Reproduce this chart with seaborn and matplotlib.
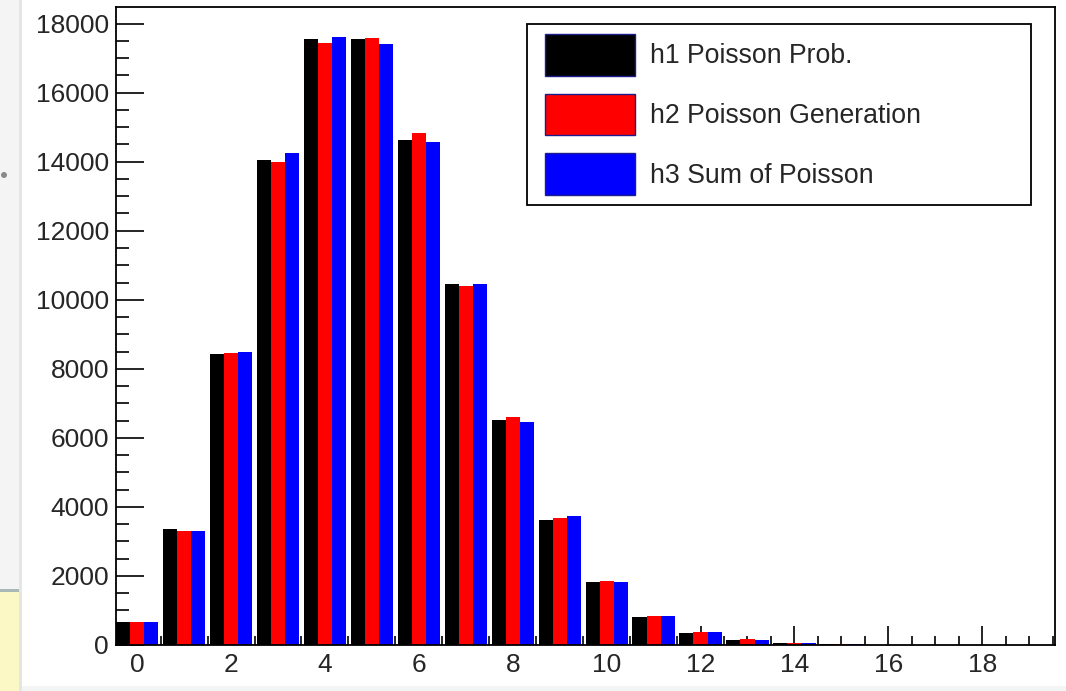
import numpy as np
import pandas as pd
import matplotlib
matplotlib.use("Agg")
import matplotlib.pyplot as plt
from matplotlib.patches import Patch, Rectangle, Circle
from matplotlib.legend_handler import HandlerPatch
from matplotlib.ticker import MultipleLocator
import seaborn as sns

# Counts per bin for the three histograms
bins = list(range(20))
h1_poisson_prob = [674, 3369, 8431, 14040, 17547, 17547, 14622, 10444, 6528, 3627,
                   1813, 824, 343, 132, 47, 16, 5, 2, 0.4, 0.1]
h2_poisson_gen = [670, 3296, 8460, 13990, 17448, 17592, 14818, 10385, 6590, 3670,
                  1841, 838, 387, 165, 55, 20, 7, 3, 1, 0]
h3_sum_poisson = [665, 3300, 8488, 14240, 17610, 17399, 14558, 10454, 6445, 3728,
                  1812, 850, 367, 145, 52, 18, 6, 2, 1, 0]
series_names = ["h1 Poisson Prob.", "h2 Poisson Generation", "h3 Sum of Poisson"]
series_colors = ["#000000", "#ff0000", "#0000ff"]
x_tick_labels = [str(v) for v in range(0, 20, 2)]

df = pd.DataFrame({
    "bin": bins * 3,
    "count": h1_poisson_prob + h2_poisson_gen + h3_sum_poisson,
    "series": [series_names[0]] * 20 + [series_names[1]] * 20 + [series_names[2]] * 20,
})

sns.set_style("ticks")
plt.rcParams["font.family"] = ["Liberation Sans", "DejaVu Sans"]

W, H = 1066, 691
fig = plt.figure(figsize=(W / 100, H / 100), dpi=100)
fig.patch.set_facecolor("white")

# window backdrop around the canvas
fig.patches.append(Rectangle((0, 0), 19, H, transform=None, facecolor="#f4f4f4",
                             edgecolor="none", zorder=-10))
fig.patches.append(Rectangle((0, 0), 19, H - 591, transform=None, facecolor="#fcf8c6",
                             edgecolor="none", zorder=-9))
fig.patches.append(Rectangle((0, H - 592), 19, 3, transform=None, facecolor="#a9b7b7",
                             edgecolor="none", zorder=-8))
fig.patches.append(Rectangle((19, 0), 3, H, transform=None, facecolor="#e3e6e6",
                             edgecolor="none", zorder=-7))
fig.patches.append(Rectangle((22, 0), W - 22, 5, transform=None, facecolor="#f3f5f5",
                             edgecolor="none", zorder=-7))
fig.patches.append(Circle((4, H - 175), 3, transform=None, facecolor="#8a8a8a",
                          edgecolor="none", zorder=-6))

ax = fig.add_axes([116 / W, (H - 645) / H, (1055 - 116) / W, (645 - 7) / H])

sns.barplot(data=df, x="bin", y="count", hue="series", hue_order=series_names,
            palette=series_colors, saturation=1, width=0.9, dodge=True,
            errorbar=None, linewidth=0, legend=False, ax=ax)

ax.set_xlim(-0.45, 19.55)
ax.set_ylim(0, 18480)
ax.set_xlabel("")
ax.set_ylabel("")

ax.set_xticks(list(range(0, 20, 2)))
ax.set_xticklabels(x_tick_labels)
ax.xaxis.set_minor_locator(MultipleLocator(0.5))
ax.set_yticks(list(range(0, 18001, 2000)))
ax.set_yticklabels([str(v) for v in range(0, 18001, 2000)])
ax.yaxis.set_minor_locator(MultipleLocator(500))

ax.tick_params(axis="both", which="both", direction="in", width=1.2, color="black",
               labelsize=19, top=False, right=False)
ax.tick_params(axis="x", which="major", length=13.5, pad=6)
ax.tick_params(axis="x", which="minor", length=6.8)
ax.tick_params(axis="y", which="major", length=20, pad=5)
ax.tick_params(axis="y", which="minor", length=9.4)

for side in ["left", "bottom", "top", "right"]:
    ax.spines[side].set_visible(True)
    ax.spines[side].set_color("black")
    ax.spines[side].set_linewidth(1.3)


# legend swatch inset a little from the left edge of its handle box
def inset_swatch(legend, orig_handle, xdescent, ydescent, width, height, fontsize):
    inset = 5.8
    return Rectangle((-xdescent + inset, -ydescent), width - inset, height)


handles = [Patch(facecolor=c, edgecolor="#1c1c8c", linewidth=1.0, label=n)
           for c, n in zip(series_colors, series_names)]
leg = ax.legend(handles=handles, loc="upper left",
                bbox_to_anchor=(527 / W, 1 - 24 / H, (1031 - 527) / W, 0.0),
                bbox_transform=fig.transFigure, mode="expand",
                fontsize=19.2, frameon=True, fancybox=False, framealpha=1,
                edgecolor="black", borderpad=0.38, labelspacing=0.68,
                handlelength=3.66, handleheight=2.02, handletextpad=0.58,
                borderaxespad=0.0,
                handler_map={Patch: HandlerPatch(patch_func=inset_swatch)})
leg.get_frame().set_linewidth(1.3)
leg._legend_box.align = "left"

fig.savefig("out.png", dpi=100, facecolor=fig.get_facecolor())
